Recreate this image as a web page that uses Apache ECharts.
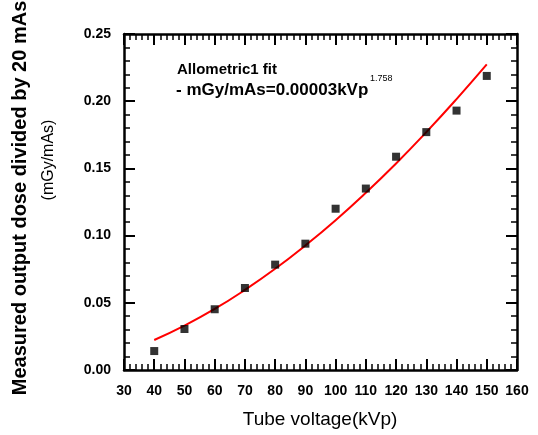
<!DOCTYPE html>
<html><head><meta charset="utf-8">
<script src="https://cdn.jsdelivr.net/npm/echarts@6/dist/echarts.min.js"></script>
<style>html,body{margin:0;padding:0;background:#fff}#c{width:538px;height:435px}</style>
</head><body><div id="c"></div>
<script>
const kvp = [40, 50, 60, 70, 80, 90, 100, 110, 120, 130, 140, 150];
const dose = [0.0141, 0.0305, 0.0452, 0.0610, 0.0784, 0.0940, 0.1200, 0.1350, 0.1587, 0.1770, 0.1930, 0.2188];
const fitKvp = [40, 50, 60, 70, 80, 90, 100, 110, 120, 130, 140, 150];
const fitDose = [0.0223, 0.0330, 0.0454, 0.0596, 0.0753, 0.0927, 0.1115, 0.1319, 0.1537, 0.1770, 0.2016, 0.2274];
const xTicks = [30, 160, 10];
const yTicks = [0, 0.25, 0.05];

const chart = echarts.init(document.getElementById('c'));
const lbl = {fontFamily: 'Liberation Sans, Arial', fontWeight: 'bold', fontSize: 14, color: '#000'};
const axLine = {show: true, onZero: false, lineStyle: {color: '#000', width: 2.5}};
const tick = {show: true, inside: true, length: 11, lineStyle: {color: '#000', width: 2}};
const minor = {show: true, splitNumber: 5, length: 6, lineStyle: {color: '#000', width: 1.5}};
chart.setOption({
  animation: false,
  backgroundColor: '#fff',
  grid: {left: 124, right: 21, top: 34, bottom: 65},
  xAxis: [
    {type: 'value', min: xTicks[0], max: xTicks[1], interval: xTicks[2], position: 'bottom',
     axisLine: axLine, axisTick: tick, minorTick: minor, splitLine: {show: false},
     axisLabel: Object.assign({margin: 14}, lbl)},
    {type: 'value', min: xTicks[0], max: xTicks[1], interval: xTicks[2], position: 'top',
     axisLine: axLine, axisTick: tick, minorTick: minor, splitLine: {show: false},
     axisLabel: {show: false}}
  ],
  yAxis: [
    {type: 'value', min: yTicks[0], max: yTicks[1], interval: yTicks[2], position: 'left',
     axisLine: axLine, axisTick: tick, minorTick: minor, splitLine: {show: false},
     axisLabel: Object.assign({margin: 13, formatter: v => v.toFixed(2)}, lbl)},
    {type: 'value', min: yTicks[0], max: yTicks[1], interval: yTicks[2], position: 'right',
     axisLine: axLine, axisTick: tick, minorTick: minor, splitLine: {show: false},
     axisLabel: {show: false}}
  ],
  series: [
    {type: 'line', data: fitKvp.map((x, i) => [x, fitDose[i]]), smooth: true, symbol: 'none',
     lineStyle: {color: '#ff0000', width: 2}, z: 2},
    {type: 'scatter', data: kvp.map((x, i) => [x, dose[i]]), symbol: 'rect', symbolSize: 8,
     itemStyle: {color: '#000'}, z: 3}
  ],
  graphic: [
    {type: 'text', x: 20, y: 198, rotation: Math.PI / 2,
     style: {text: 'Measured output dose divided by 20 mAs', font: 'bold 20px "Liberation Sans", Arial',
             fill: '#000', align: 'center', verticalAlign: 'middle', textAlign: 'center', textVerticalAlign: 'middle'}},
    {type: 'text', x: 49, y: 160, rotation: Math.PI / 2,
     style: {text: '(mGy/mAs)', font: '16px "Liberation Sans", Arial',
             fill: '#000', align: 'center', verticalAlign: 'middle', textAlign: 'center', textVerticalAlign: 'middle'}},
    {type: 'text', x: 320, y: 420,
     style: {text: 'Tube voltage(kVp)', font: '19px "Liberation Sans", Arial',
             fill: '#000', align: 'center', verticalAlign: 'middle', textAlign: 'center', textVerticalAlign: 'middle'}},
    {type: 'text', x: 177, y: 70,
     style: {text: 'Allometric1 fit', font: 'bold 15px "Liberation Sans", Arial',
             fill: '#000', align: 'left', verticalAlign: 'middle', textAlign: 'left', textVerticalAlign: 'middle'}},
    {type: 'text', x: 176, y: 90,
     style: {text: '- mGy/mAs=0.00003kVp', font: 'bold 17px "Liberation Sans", Arial',
             fill: '#000', align: 'left', verticalAlign: 'middle', textAlign: 'left', textVerticalAlign: 'middle'}},
    {type: 'text', x: 370, y: 79,
     style: {text: '1.758', font: '9px "Liberation Sans", Arial',
             fill: '#000', align: 'left', verticalAlign: 'middle', textAlign: 'left', textVerticalAlign: 'middle'}}
  ]
});
</script></body></html>
